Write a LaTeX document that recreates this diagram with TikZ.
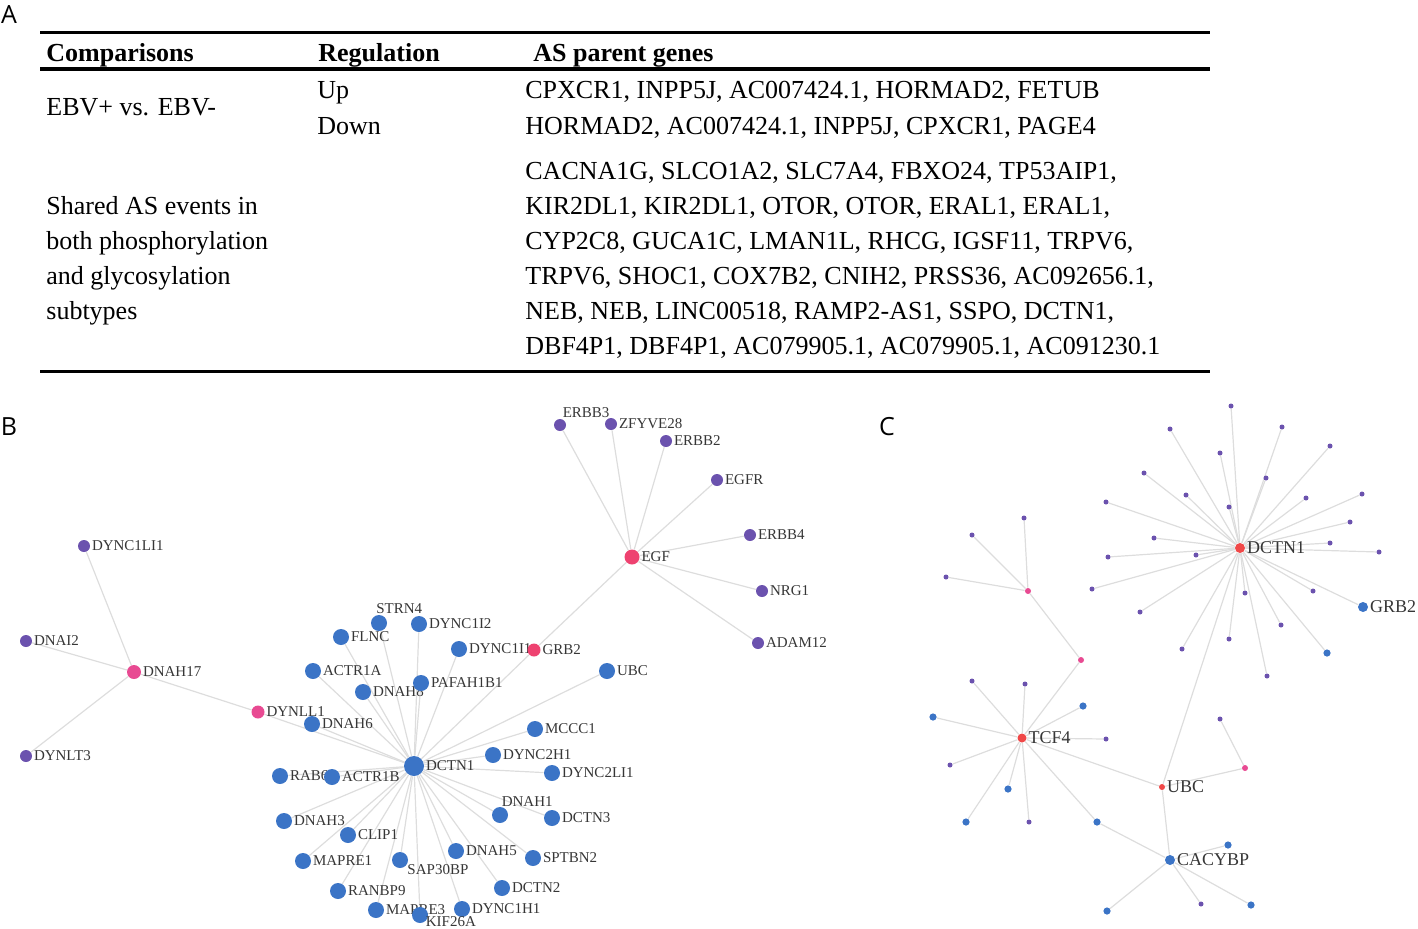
\documentclass[tikz,border=0pt]{standalone}
\usepackage{fontspec}
\setmainfont{Liberation Serif}
\newfontfamily\panelfont{Open Sans}
\usetikzlibrary{positioning}

\definecolor{nblue}{HTML}{3B74C6}
\definecolor{npurple}{HTML}{6B52AE}
\definecolor{npink}{HTML}{E84A92}
\definecolor{nrose}{HTML}{EE4270}
\definecolor{nred}{HTML}{F04848}
\definecolor{edgegray}{HTML}{DDDDDD}
\definecolor{lblgray}{HTML}{363636}

\pgfdeclarelayer{edges}
\pgfsetlayers{edges,main}

\tikzset{
  tbl/.style={font=\fontsize{13}{15}\selectfont,inner sep=0pt,anchor=base west},
  panel/.style={font=\panelfont\fontsize{12.5}{14}\selectfont,inner sep=0pt},
  lbl/.style={font=\fontsize{7.5}{9}\selectfont,text=lblgray,inner sep=0.6pt},
  clbl/.style={font=\fontsize{9}{10}\selectfont,text=lblgray,inner sep=0.6pt},
  dot/.style={circle,inner sep=0pt,minimum size=#1},
  bblue/.style={dot=8pt,fill=nblue},
  bpurple/.style={dot=6pt,fill=npurple},
  bpink/.style={dot=7pt,fill=npink},
  brose/.style={dot=7pt,fill=nrose},
  cpurple/.style={dot=2.5pt,fill=npurple},
  cblue/.style={dot=3.6pt,fill=nblue},
  cpink/.style={dot=3pt,fill=npink},
  cred/.style={dot=5pt,fill=nred},
  link/.style={draw=edgegray,line width=0.6pt}
}

\begin{document}
\begin{tikzpicture}[x=0.5pt,y=-0.5pt]
\useasboundingbox (0,0) rectangle (1418,928);

%% A: table
\node[panel] (A) at (9,15) {A};
\draw[line width=1.5pt] (40,32) coordinate (tl) -- (1210,32) coordinate (tr);
\draw[line width=2pt] (40,69) -- (1210,69);
\draw[line width=1.5pt] (40,371) -- (1210,371);

\node[tbl] (hcmp) at (46,61) {\bfseries Comparisons};
\node[tbl] (hreg) at (318,61) {\bfseries Regulation};
\node[tbl] (hgen) at (533,61) {\bfseries AS parent genes};

\node[tbl] (ebv) at (46,115) {EBV+ vs. EBV-};
\node[tbl] (up) at (317,98) {Up};
\node[tbl] (down) at (317,134) {Down};
\node[tbl] (gup) at (525,98) {CPXCR1, INPP5J, AC007424.1, HORMAD2, FETUB};
\node[tbl] (gdown) at (525,134) {HORMAD2, AC007424.1, INPP5J, CPXCR1, PAGE4};

\foreach \t [count=\i] in {Shared AS events in, both phosphorylation,
    and glycosylation, subtypes}
  \node[tbl] (sh\i) at (46,{179+35*\i}) {\t};

\foreach \t [count=\i] in {
    {CACNA1G, SLCO1A2, SLC7A4, FBXO24, TP53AIP1,},
    {KIR2DL1, KIR2DL1, OTOR, OTOR, ERAL1, ERAL1,},
    {CYP2C8, GUCA1C, LMAN1L, RHCG, IGSF11, TRPV6,},
    {TRPV6, SHOC1, COX7B2, CNIH2, PRSS36, AC092656.1,},
    {NEB, NEB, LINC00518, RAMP2-AS1, SSPO, DCTN1,},
    {DBF4P1, DBF4P1, AC079905.1, AC079905.1, AC091230.1}}
  \node[tbl] (gs\i) at (525,{144+35*\i}) {\t};

%% B: network
\node[panel] (B) at (9,427) {B};

\node[dot=10pt,fill=nblue,label={[lbl]right:DCTN1}] (b-DCTN1) at (414,766) {};
\foreach \g/\x/\y in {DYNC1I2/419/624, FLNC/341/637, DYNC1I1/459/649,
    ACTR1A/313/671, DNAH8/363/692, PAFAH1B1/421/683, DNAH6/312/724,
    UBC/607/671, MCCC1/535/729, DYNC2H1/493/755, DYNC2LI1/552/773,
    RAB6A/280/776, ACTR1B/332/777, DCTN3/552/818, DNAH3/284/821,
    CLIP1/348/835, DNAH5/456/851, SPTBN2/533/858, MAPRE1/303/861,
    DCTN2/502/888, RANBP9/338/891, MAPRE3/376/910, DYNC1H1/462/909}
  \node[bblue,label={[lbl]right:\g}] (b-\g) at (\x,\y) {};
\node[bblue,label={[lbl,anchor=south west]120:STRN4}] (b-STRN4) at (379,623) {};
\node[bblue,label={[lbl,anchor=south west,xshift=-2pt]60:DNAH1}] (b-DNAH1) at (500,815) {};
\node[bblue,label={[lbl,anchor=north west,xshift=-1pt]-20:SAP30BP}] (b-SAP30BP) at (400,860) {};
\node[bblue,label={[lbl,anchor=north west,xshift=-1.5pt,yshift=2pt]-30:KIF26A}] (b-KIF26A) at (420,915) {};

\node[bpink,label={[lbl]right:DNAH17}] (b-DNAH17) at (134,672) {};
\node[bpink,dot=6.5pt,label={[lbl]right:DYNLL1}] (b-DYNLL1) at (258,712) {};
\node[brose,dot=6.5pt,label={[lbl]right:GRB2}] (b-GRB2) at (534,650) {};
\node[brose,dot=7.5pt,label={[lbl]right:EGF}] (b-EGF) at (632,557) {};

\foreach \g/\x/\y in {DYNC1LI1/84/546, DNAI2/26/641, DYNLT3/26/756,
    ZFYVE28/611/424, ERBB2/666/441, EGFR/717/480, ERBB4/750/535,
    NRG1/762/591, ADAM12/758/643}
  \node[bpurple,label={[lbl]right:\g}] (b-\g) at (\x,\y) {};
\node[bpurple,label={[lbl,anchor=south west,xshift=-1pt]60:ERBB3}] (b-ERBB3) at (560,425) {};

\begin{pgfonlayer}{edges}
\foreach \g in {DYNC1LI1, DNAI2, DYNLT3, DYNLL1}
  \draw[link] (b-DNAH17) -- (b-\g);
\foreach \g in {STRN4, DYNC1I2, FLNC, DYNC1I1, ACTR1A, DNAH8, PAFAH1B1,
    DNAH6, UBC, MCCC1, DYNC2H1, DYNC2LI1, RAB6A, ACTR1B, DNAH1, DCTN3,
    DNAH3, CLIP1, DNAH5, SAP30BP, SPTBN2, MAPRE1, DCTN2, RANBP9, MAPRE3,
    DYNC1H1, KIF26A, DYNLL1, GRB2}
  \draw[link] (b-DCTN1) -- (b-\g);
\foreach \g in {GRB2, ERBB3, ZFYVE28, ERBB2, EGFR, ERBB4, NRG1, ADAM12}
  \draw[link] (b-EGF) -- (b-\g);
\end{pgfonlayer}

%% C: network
\node[panel] (C) at (887,427) {C};

\node[cred,label={[clbl]right:DCTN1}] (c-DCTN1) at (1240,548) {};
\node[cred,dot=4.5pt,label={[clbl]right:TCF4}] (c-TCF4) at (1022,738) {};
\node[cred,dot=3pt,label={[clbl]right:UBC}] (c-UBC) at (1162,787) {};
\node[cblue,dot=5pt,label={[clbl]right:GRB2}] (c-GRB2) at (1363,607) {};
\node[cblue,dot=5pt,label={[clbl]right:CACYBP}] (c-CACYBP) at (1170,860) {};

% DCTN1 star
\foreach \x/\y [count=\i] in {1231/406, 1170/429, 1282/427, 1220/453,
    1330/446, 1144/473, 1266/478, 1186/495, 1229/507, 1306/498, 1362/494,
    1106/502, 1350/522, 1154/538, 1330/543, 1379/552, 1108/557, 1196/555,
    1092/589, 1313/591, 1245/593, 1140/612, 1281/625, 1229/639, 1182/649,
    1267/676}
  \node[cpurple] (s\i) at (\x,\y) {};
\node[cblue] (sb) at (1327,653) {};

% left branch
\node[cpink] (k1) at (1028,591) {};
\node[cpink] (k2) at (1081,660) {};
\foreach \x/\y [count=\i] in {1024/518, 972/535, 946/577}
  \node[cpurple] (l\i) at (\x,\y) {};

% TCF4 star
\foreach \x/\y [count=\i] in {972/681, 1025/684, 1106/739, 950/765, 1029/822}
  \node[cpurple] (tp\i) at (\x,\y) {};
\foreach \x/\y [count=\i] in {1083/706, 933/717, 1008/789, 966/822}
  \node[cblue] (tb\i) at (\x,\y) {};
\node[cblue] (tc) at (1097,822) {};

% UBC branch
\node[cpink] (k3) at (1245,768) {};
\node[cpurple] (u1) at (1220,719) {};

% CACYBP star
\foreach \x/\y [count=\i] in {1228/845, 1107/911, 1251/905}
  \node[cblue] (cb\i) at (\x,\y) {};
\node[cpurple] (cp1) at (1201,904) {};

\begin{pgfonlayer}{edges}
\foreach \i in {1,...,26}
  \draw[link] (c-DCTN1) -- (s\i);
\draw[link] (c-DCTN1) -- (sb);
\draw[link] (c-DCTN1) -- (c-GRB2);
\draw[link] (c-DCTN1) -- (c-UBC);
\foreach \i in {1,2,3}
  \draw[link] (k1) -- (l\i);
\draw[link] (k1) -- (k2);
\draw[link] (k2) -- (c-TCF4);
\foreach \i in {1,...,5}
  \draw[link] (c-TCF4) -- (tp\i);
\foreach \i in {1,...,4}
  \draw[link] (c-TCF4) -- (tb\i);
\draw[link] (c-TCF4) -- (tc);
\draw[link] (tc) -- (c-CACYBP);
\draw[link] (c-TCF4) -- (c-UBC);
\draw[link] (c-UBC) -- (c-CACYBP);
\draw[link] (c-UBC) -- (k3);
\draw[link] (k3) -- (u1);
\foreach \i in {1,2,3}
  \draw[link] (c-CACYBP) -- (cb\i);
\draw[link] (c-CACYBP) -- (cp1);
\end{pgfonlayer}

\end{tikzpicture}
\end{document}
